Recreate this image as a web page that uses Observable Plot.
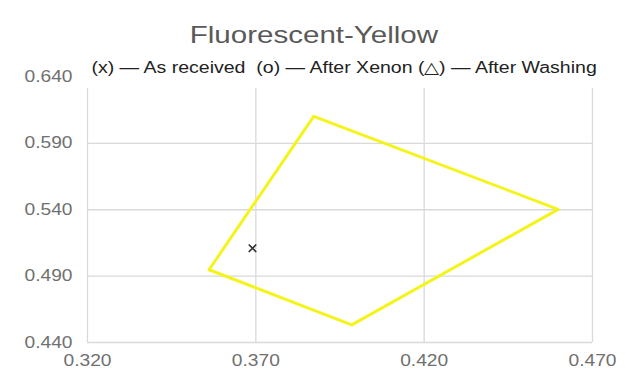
<!DOCTYPE html>
<html>
<head>
<meta charset="utf-8">
<script src="https://cdn.jsdelivr.net/npm/d3@7"></script>
<script src="https://cdn.jsdelivr.net/npm/@observablehq/plot@0.6"></script>
<style>
  body { margin: 0; background: #fff; font-family: "Liberation Sans", Arial, sans-serif; }
  #wrap { position: relative; width: 627px; height: 385px; overflow: hidden; }
  #title { position: absolute; left: 0; width: 627px; top: 21px; text-align: center; font-size: 24px; color: #595959; }
  #title span { display: inline-block; transform: scaleX(1.23); }
  #legend { position: absolute; left: 86px; width: 516px; top: 56px; height: 32px; background: #fff; text-align: center; font-size: 16px; color: #222; line-height: 24px; }
  #legend span { display: inline-block; transform: scaleX(1.22); white-space: pre; }
</style>
</head>
<body>
<div id="wrap">
  <div id="chart"></div>
  <div id="title"><span>Fluorescent-Yellow</span></div>
  <div id="legend"><span>(x) — As received  (o) — After Xenon (△) — After Washing</span></div>
</div>
<script>
// Data
const xTicks = [0.320, 0.370, 0.420, 0.470];
const yTicks = [0.440, 0.490, 0.540, 0.590, 0.640];

// Gamut polygon (yellow), vertices in order
const polyX = [0.3872, 0.4598, 0.3985, 0.3561];
const polyY = [0.6104, 0.5403, 0.4533, 0.4948];

// "As received" marker
const receivedX = [0.369];
const receivedY = [0.511];

const poly = polyX.map((x, i) => ({x, y: polyY[i]}));
const received = receivedX.map((x, i) => ({x, y: receivedY[i]}));

const chart = Plot.plot({
  width: 627,
  height: 385,
  marginTop: 76.5,
  marginBottom: 43,
  marginLeft: 87,
  marginRight: 35,
  style: { fontFamily: "Liberation Sans, Arial, sans-serif", fontSize: "16px", color: "#707070", background: "#fff" },
  x: { domain: [0.32, 0.47], ticks: xTicks, tickFormat: d3.format(".3f"), tickSize: 0, tickPadding: 12, label: null },
  y: { domain: [0.44, 0.64], ticks: yTicks, tickFormat: d3.format(".3f"), tickSize: 0, tickPadding: 15, label: null },
  marks: [
    Plot.gridX(xTicks, { stroke: "#d9d9d9", strokeOpacity: 1, strokeWidth: 1.3 }),
    Plot.gridY(yTicks, { stroke: "#d9d9d9", strokeOpacity: 1, strokeWidth: 1.3 }),
    Plot.line(poly, { x: "x", y: "y", curve: "linear-closed", stroke: "#f4f41c", strokeWidth: 3 }),
    Plot.dot(received, { x: "x", y: "y", symbol: "times", r: 3.5, stroke: "#333", strokeWidth: 1.7 })
  ]
});
document.getElementById("chart").appendChild(chart);

// Widen tick labels horizontally to match the reference's stretched glyphs
chart.querySelectorAll("text").forEach(t => {
  const b = t.getBBox();
  const anchor = t.getAttribute("text-anchor") || getComputedStyle(t).textAnchor;
  const cx = b.x + b.width / 2;
  const ax = anchor === "end" ? b.x + b.width : cx;
  const prev = t.getAttribute("transform") || "";
  t.setAttribute("transform", `${prev} translate(${ax},0) scale(1.2,1) translate(${-ax},0)`);
});
</script>
</body>
</html>
